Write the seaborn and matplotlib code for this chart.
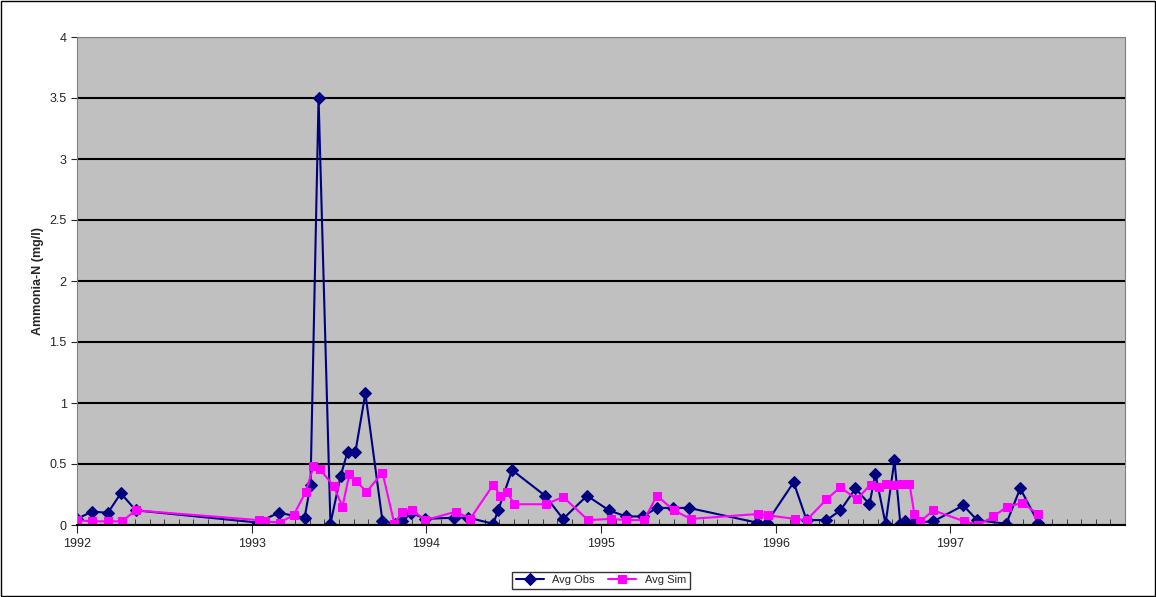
import numpy as np
import matplotlib.pyplot as plt
import seaborn as sns
from matplotlib.ticker import MultipleLocator

# x in decimal years, y in mg/l
obs_t = [1992.00, 1992.086, 1992.177, 1992.251, 1992.337, 1993.034, 1993.154, 1993.303, 1993.337,
         1993.383, 1993.451, 1993.509, 1993.549, 1993.594, 1993.651, 1993.749, 1993.823, 1993.863,
         1993.914, 1993.994, 1994.160, 1994.240, 1994.383, 1994.411, 1994.491, 1994.680, 1994.783,
         1994.920, 1995.046, 1995.143, 1995.240, 1995.320, 1995.411, 1995.503, 1995.891, 1995.949,
         1996.103, 1996.177, 1996.291, 1996.371, 1996.457, 1996.537, 1996.571, 1996.629, 1996.680,
         1996.714, 1996.743, 1996.789, 1996.903, 1997.074, 1997.154, 1997.320, 1997.400, 1997.503]
obs_v = [0.05, 0.11, 0.10, 0.26, 0.12, 0.02, 0.10, 0.06, 0.33, 3.5, 0.01, 0.40, 0.60, 0.60, 1.08,
         0.03, 0.01, 0.03, 0.10, 0.05, 0.06, 0.06, 0.01, 0.12, 0.45, 0.24, 0.05, 0.24, 0.12, 0.07,
         0.07, 0.14, 0.14, 0.14, 0.02, 0.02, 0.35, 0.04, 0.04, 0.12, 0.30, 0.17, 0.42, 0.01, 0.53,
         0.01, 0.03, 0.02, 0.03, 0.16, 0.04, 0.01, 0.30, 0.02]
sim_t = [1992.00, 1992.086, 1992.177, 1992.257, 1992.337, 1993.040, 1993.074, 1993.160, 1993.240,
         1993.309, 1993.354, 1993.389, 1993.469, 1993.520, 1993.560, 1993.600, 1993.657, 1993.749,
         1993.817, 1993.863, 1993.920, 1993.994, 1994.171, 1994.251, 1994.383, 1994.423, 1994.463,
         1994.503, 1994.686, 1994.783, 1994.926, 1995.057, 1995.143, 1995.246, 1995.320, 1995.417,
         1995.514, 1995.897, 1995.954, 1996.109, 1996.177, 1996.291, 1996.371, 1996.463, 1996.543,
         1996.594, 1996.634, 1996.674, 1996.720, 1996.766, 1996.794, 1996.829, 1996.903, 1997.080,
         1997.160, 1997.246, 1997.326, 1997.411, 1997.503]
sim_v = [0.04, 0.03, 0.03, 0.03, 0.12, 0.04, 0.03, 0.02, 0.08, 0.27, 0.48, 0.46, 0.32, 0.15, 0.42,
         0.36, 0.27, 0.43, 0.01, 0.11, 0.12, 0.04, 0.11, 0.05, 0.33, 0.24, 0.27, 0.17, 0.17, 0.23,
         0.04, 0.05, 0.04, 0.04, 0.24, 0.12, 0.05, 0.09, 0.08, 0.05, 0.04, 0.21, 0.31, 0.21, 0.33,
         0.31, 0.34, 0.33, 0.34, 0.34, 0.09, 0.03, 0.12, 0.03, 0.00, 0.07, 0.15, 0.18, 0.09]

sns.set_style("ticks")
plt.rcParams['font.family'] = ['Liberation Sans', 'DejaVu Sans']

fig = plt.figure(figsize=(11.56, 5.97), dpi=100)
fig.patches.append(plt.Rectangle((0.001, 0.002), 0.998, 0.996, transform=fig.transFigure,
                                 fill=False, edgecolor='black', linewidth=1))
ax = fig.add_axes([77 / 1156, 72 / 597, 1048 / 1156, 488 / 597])
ax.set_facecolor('#c0c0c0')

sns.lineplot(x=obs_t, y=obs_v, ax=ax, color='#000080', marker='D', markersize=6,
             markeredgecolor='#000080', linewidth=1.5, label='Avg Obs', sort=False)
sns.lineplot(x=sim_t, y=sim_v, ax=ax, color='#ff00ff', marker='s', markersize=6,
             markerfacecolor='#ff00ff', markeredgecolor='#ff00ff', linewidth=1.5,
             label='Avg Sim', sort=False)

ax.set_xlim(1992, 1998)
ax.set_ylim(0, 4)
ax.set_xticks([1992, 1993, 1994, 1995, 1996, 1997])
ax.set_xticklabels(['1992', '1993', '1994', '1995', '1996', '1997'])
ax.xaxis.set_minor_locator(MultipleLocator(1 / 12))
ax.set_yticks(np.arange(0, 4.01, 0.5))
ax.set_yticklabels(['0', '0.5', '1', '1.5', '2', '2.5', '3', '3.5', '4'])
ax.tick_params(axis='x', which='major', direction='out', length=6, labelsize=9)
ax.tick_params(axis='x', which='minor', direction='in', length=4)
ax.tick_params(axis='y', direction='out', length=4, labelsize=9)
ax.grid(axis='y', color='black', linewidth=1.5)
for s in ax.spines.values():
    s.set_color('#808080')
ax.spines['bottom'].set_color('black')
ax.spines['bottom'].set_linewidth(1.5)
ax.set_xlabel('')
ax.set_ylabel('Ammonia-N (mg/l)', fontsize=9, fontweight='bold')

ax.legend(loc='upper center', bbox_to_anchor=(0.5, -0.085), ncol=2, fontsize=8,
          frameon=True, fancybox=False, edgecolor='black', borderpad=0.3,
          handlelength=2.5, columnspacing=1.2)

fig.savefig('out.png', dpi=100)
